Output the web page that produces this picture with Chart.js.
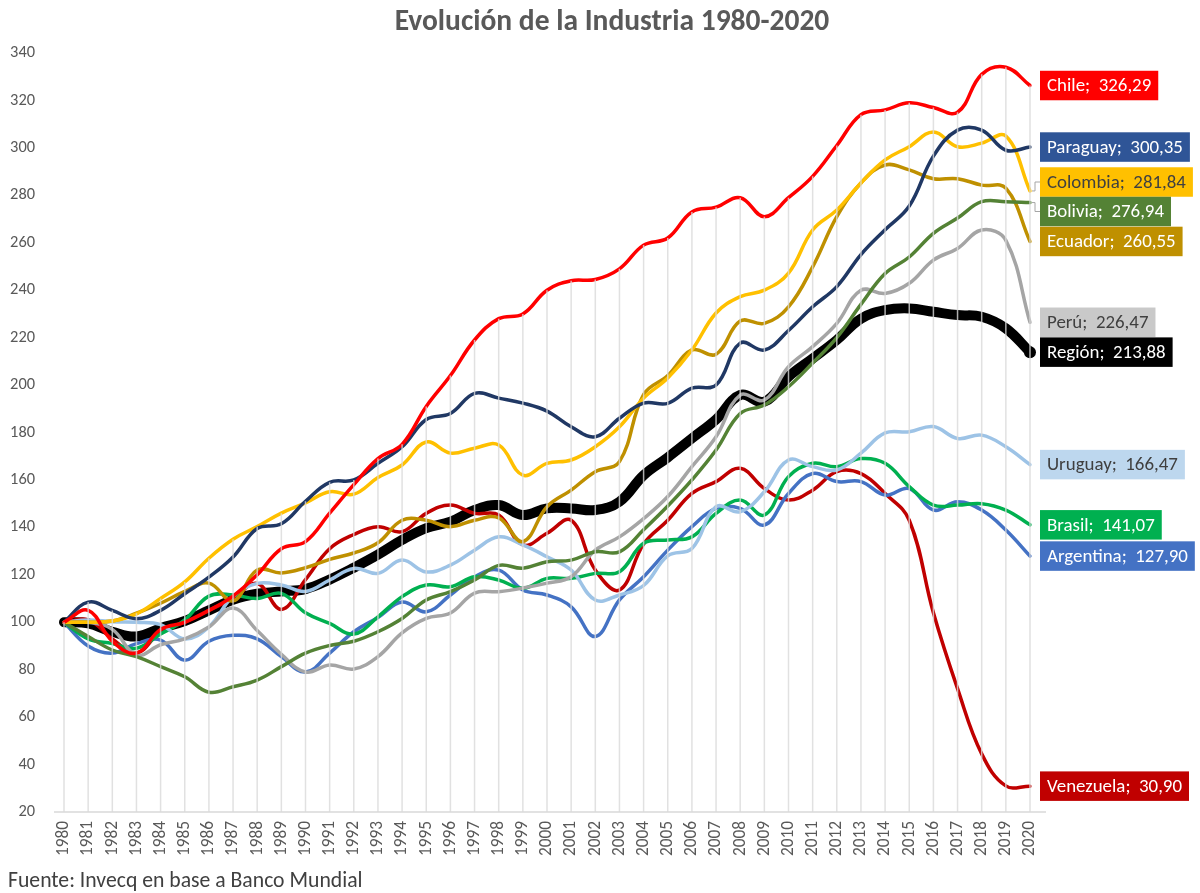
<!DOCTYPE html>
<html lang="es">
<head>
<meta charset="UTF-8">
<title>Evolución de la Industria 1980-2020</title>
<script src="https://cdn.jsdelivr.net/npm/chart.js"></script>
<style>
  html, body { margin: 0; padding: 0; background: #fff; }
</style>
</head>
<body>
<canvas id="chart" width="1200" height="893"></canvas>
<script>
// años (eje x)
const years = ['1980','1981','1982','1983','1984','1985','1986','1987','1988','1989',
  '1990','1991','1992','1993','1994','1995','1996','1997','1998','1999',
  '2000','2001','2002','2003','2004','2005','2006','2007','2008','2009',
  '2010','2011','2012','2013','2014','2015','2016','2017','2018','2019','2020'];

// índices 1980 = 100
const chile = [100,105,92,87,97,100,105,111,120,131,134,146,158,169,175,191,204,219,228,230,
  240,244,244.5,249,259,262,273,275,279,271,279,288,301,314,316,319,317,315,331,334,326.29];
const paraguay = [100,108.5,105,101.5,105,112,119,127.5,139.5,141.5,151,159,160,167,174,185.5,188,196.5,194.5,192.4,
  189,182.4,178.2,186,192.4,192.3,198.7,200,217.7,214.8,223,233,241.5,255,265.5,275.5,296.5,307.5,307.5,299,300.35];
const colombia = [100,100,100.5,103.5,110,117,127,135,140.3,146,150.3,155,154,161,166.3,176,171.3,173.4,174.7,162,
  167,168.4,174,182.4,194.5,203,214.8,230.4,237.3,240,247.2,265.4,273.8,285.2,294.9,300.5,306.7,300.5,302,305,281.84];
const bolivia = [100,94,88.3,85.5,81.3,77,70.5,72.8,75.6,81.3,87,90.2,92,96,101.6,109.4,112.9,117.8,124,122.8,
  125.5,126.2,129.7,129.7,139,149,160,172.6,188,191.6,199.3,209.3,220,234,247,254,264,270.4,277.3,277.3,276.94];
const ecuador = [100,100,100.5,103.8,108,113,116.5,109,122,120.8,123,126.5,129.2,133.5,143,143,140.3,143,144,134,
  148.7,155.7,163.5,167.7,196,204,214.8,213,227,226,233,249.8,271,285.2,292.8,290.7,287,287,284.3,283,260.55];
const peru = [100,100,97,86.2,90.5,93,98,106,96.5,86.5,79,82,80.3,85.5,95.5,101.6,103.9,112.3,112.9,114.4,
  116.5,119.2,130.4,136,143.7,153,165.6,178.2,195.8,193.7,207.7,216.2,226,240,238.6,242.9,252.7,257.6,265.4,261,226.47];
const region = [100,99.5,96,94,97.5,100.5,105,109.5,112,113,114,118,123,128.5,134.7,139.7,142.4,147.3,149.4,145.2,
  148,148,147.3,150.8,162,169.5,177.5,185.5,195.8,193,203.5,211.2,219,228,231.6,232.3,230.9,229.5,228.8,223.9,213.88];
const uruguay = [100,101,100.2,100,99,93,98,111,116.4,115.7,113,117.8,122.7,120.6,126.2,121.2,124.1,130.4,136,132.6,
  127.6,122,109.4,111.5,115.5,128,131.1,148.7,146.6,155,168.4,165.6,164.2,171.3,179.8,180.3,182.5,177.5,178.9,174,166.47];
const brasil = [100,93,91,89,95,101,111,111.5,110,112.2,104,99.5,95,102.3,110.8,115.7,115,119.2,117.8,114.3,
  118.5,118.5,120.6,121.3,133.3,134.7,136,145.9,151.5,145.2,161.4,167,165.6,169,167,157.2,149.4,149.4,150,147.3,141.07];
const argentina = [100,90,87,91,92.5,84,92,94.5,93,85.5,79,87,96,102,108.5,104.4,111.5,119.2,122,113.6,
  111.5,106.5,94,109.4,119.2,130.4,140.3,148,148,141,154.3,162.7,159.3,159.3,153.6,156.4,147.3,150.8,147.3,138.9,127.9];
const venezuela = [100,101,93,87,96,100,105,110,116.4,105.4,118,131,137,140.3,138.2,145.9,149.4,145.9,145.2,132.6,
  137.5,143,122,113.6,133,143,154.3,159.3,164.9,156.4,151.5,155.7,163.5,162.7,154.3,143,104,72,44.5,31,30.9];

const yTicks = [20,40,60,80,100,120,140,160,180,200,220,240,260,280,300,320,340];

const series = [
  { name: 'Chile', data: chile, color: '#FF0000', box: '#FF0000', text: '#FFFFFF' },
  { name: 'Paraguay', data: paraguay, color: '#203864', box: '#2F5597', text: '#FFFFFF' },
  { name: 'Colombia', data: colombia, color: '#FFC000', box: '#FFC000', text: '#404040' },
  { name: 'Bolivia', data: bolivia, color: '#548235', box: '#548235', text: '#FFFFFF' },
  { name: 'Ecuador', data: ecuador, color: '#BF9000', box: '#BF9000', text: '#FFFFFF' },
  { name: 'Perú', data: peru, color: '#A5A5A5', box: '#C9C9C9', text: '#404040' },
  { name: 'Uruguay', data: uruguay, color: '#9DC3E6', box: '#BDD7EE', text: '#404040' },
  { name: 'Brasil', data: brasil, color: '#00B050', box: '#00B050', text: '#FFFFFF' },
  { name: 'Argentina', data: argentina, color: '#4472C4', box: '#4472C4', text: '#FFFFFF' },
  { name: 'Venezuela', data: venezuela, color: '#C00000', box: '#C00000', text: '#FFFFFF' },
  { name: 'Región', data: region, color: '#000000', box: '#000000', text: '#FFFFFF', thick: true }
];

// pick a Calibri-like font if there is one
function hasFont(name) {
  const c = document.createElement('canvas').getContext('2d');
  c.font = '40px monospace';
  const a = c.measureText('abcdefghijKLMNO0123').width;
  c.font = '40px "' + name + '", monospace';
  return c.measureText('abcdefghijKLMNO0123').width !== a;
}
const FONT = hasFont('Carlito') ? 'Carlito' : 'Open Sans';

// size a font so a text fills a given width
function fitSize(text, weight, width) {
  const c = document.createElement('canvas').getContext('2d');
  c.font = weight + ' 100px "' + FONT + '"';
  return Math.round(100 * width / c.measureText(text).width * 10) / 10;
}
const titleSize = fitSize('Evolución de la Industria 1980-2020', 'bold', 435);
const footSize = fitSize('Fuente: Invecq en base a Banco Mundial', 'normal', 355);
const labelSize = fitSize('Argentina;  127,90', 'normal', 141);
const yTickSize = fitSize('340', 'normal', 25);
const xTickSize = fitSize('1980', 'normal', 35);

const fmt = v => v.toFixed(2).replace('.', ',');

// vertical drop lines from the highest series to the axis, plus the base line
const dropLines = {
  id: 'dropLines',
  beforeDatasetsDraw(chart) {
    const { ctx, chartArea } = chart;
    ctx.save();
    ctx.strokeStyle = '#D9D9D9';
    ctx.lineWidth = 1.5;
    ctx.beginPath();
    ctx.moveTo(chartArea.left - 10, chartArea.bottom);
    ctx.lineTo(chartArea.right + 16, chartArea.bottom);
    ctx.stroke();
    ctx.restore();
  },
  afterDatasetsDraw(chart) {
    const { ctx, chartArea, scales } = chart;
    ctx.save();
    ctx.strokeStyle = 'rgba(217,217,217,0.8)';
    ctx.lineWidth = 1.5;
    years.forEach((yr, i) => {
      const top = Math.max(...series.map(s => s.data[i]));
      const x = scales.x.getPixelForValue(i);
      ctx.beginPath();
      ctx.moveTo(x, scales.y.getPixelForValue(top));
      ctx.lineTo(x, chartArea.bottom);
      ctx.stroke();
    });
    ctx.restore();
  }
};

// end-of-line labels "País;  valor"
const endLabels = {
  id: 'endLabels',
  afterDatasetsDraw(chart) {
    const { ctx, scales } = chart;
    const last = years.length - 1;
    const xPt = scales.x.getPixelForValue(last);
    const boxX = xPt + 10;
    const boxH = 29.5;
    const items = series.map(s => {
      const yPt = scales.y.getPixelForValue(s.data[last]);
      return { s, yPt, y: yPt };
    }).sort((a, b) => a.y - b.y);
    for (let k = 0; k < 60; k++) {
      for (let i = 1; i < items.length; i++) {
        const gap = items[i].y - items[i - 1].y;
        if (gap < boxH) {
          const d = (boxH - gap) / 2;
          items[i].y += d;
          items[i - 1].y -= d;
        }
      }
    }
    ctx.save();
    ctx.font = labelSize + 'px "' + FONT + '"';
    ctx.textBaseline = 'middle';
    items.forEach(it => {
      if (Math.abs(it.y - it.yPt) > 5) {
        ctx.strokeStyle = '#A6A6A6';
        ctx.lineWidth = 1;
        ctx.beginPath();
        ctx.moveTo(xPt + 2, it.yPt);
        ctx.lineTo(xPt + 5, it.yPt);
        ctx.lineTo(xPt + 5, it.y);
        ctx.lineTo(boxX, it.y);
        ctx.stroke();
      }
      const txt = it.s.name + ';  ' + fmt(it.s.data[last]);
      const w = ctx.measureText(txt).width + 14;
      ctx.fillStyle = it.s.box;
      ctx.fillRect(boxX, it.y - boxH / 2, w, boxH);
      ctx.fillStyle = it.s.text;
      ctx.fillText(txt, boxX + 7, it.y + 1);
    });
    ctx.restore();
  }
};

// title and source note
const texts = {
  id: 'texts',
  afterDraw(chart) {
    const { ctx } = chart;
    ctx.save();
    ctx.fillStyle = '#595959';
    ctx.textBaseline = 'middle';
    ctx.textAlign = 'center';
    ctx.font = 'bold ' + titleSize + 'px "' + FONT + '"';
    ctx.fillText('Evolución de la Industria 1980-2020', 612, 23);
    ctx.textAlign = 'left';
    ctx.fillStyle = '#404040';
    ctx.font = footSize + 'px "' + FONT + '"';
    ctx.fillText('Fuente: Invecq en base a Banco Mundial', 8, 882);
    ctx.restore();
  }
};

const datasets = series.map((s, i) => ({
  label: s.name,
  data: s.data,
  borderColor: s.color,
  backgroundColor: s.color,
  borderWidth: s.thick ? 10 : 3.5,
  tension: 0.4,
  fill: false,
  borderCapStyle: 'round',
  pointRadius: s.thick ? (c => c.dataIndex === years.length - 1 ? 6 : 0) : 0,
  pointBorderWidth: 0,
  order: s.thick ? 50 : i
}));

new Chart(document.getElementById('chart'), {
  type: 'line',
  data: { labels: years, datasets },
  options: {
    responsive: false,
    animation: false,
    devicePixelRatio: 1,
    layout: { padding: { top: 53, right: 170, left: 0, bottom: 0 } },
    plugins: { legend: { display: false }, tooltip: { enabled: false }, title: { display: false } },
    scales: {
      x: {
        offset: false,
        grid: { display: false, drawTicks: false },
        border: { display: false },
        ticks: {
          autoSkip: false, maxRotation: 90, minRotation: 90, padding: 9,
          color: '#595959', font: { family: FONT, size: xTickSize }
        },
        afterFit: sc => { sc.height = 81; }
      },
      y: {
        min: 20, max: 340,
        afterBuildTicks: sc => { sc.ticks = yTicks.map(v => ({ value: v })); },
        grid: { display: false, drawTicks: false },
        border: { display: false },
        ticks: { padding: 29, color: '#595959', font: { family: FONT, size: yTickSize } },
        afterFit: sc => { sc.width = 64; }
      }
    }
  },
  plugins: [dropLines, endLabels, texts]
});
</script>
</body>
</html>
